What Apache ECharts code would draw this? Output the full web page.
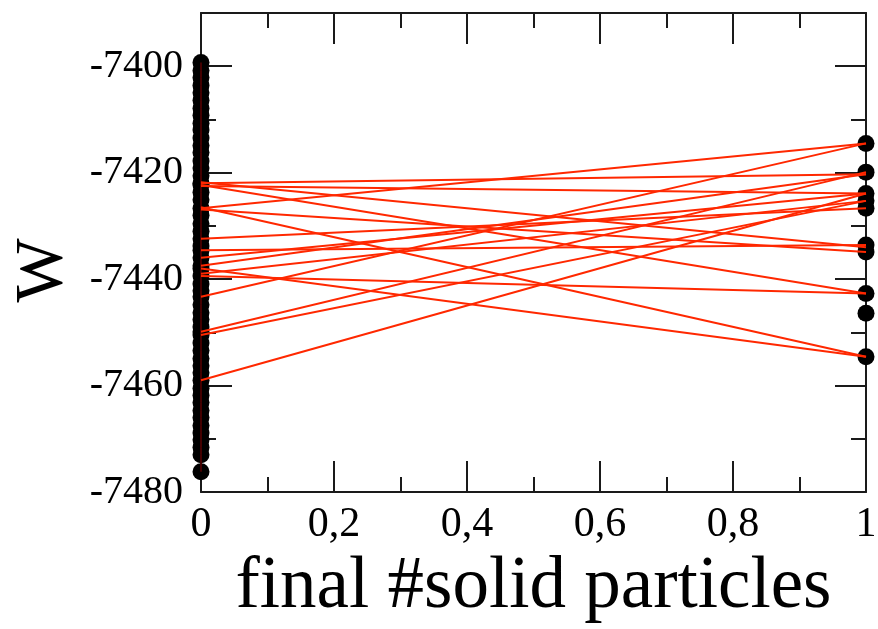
<!DOCTYPE html>
<html>
<head>
<meta charset="utf-8">
<script src="https://cdn.jsdelivr.net/npm/echarts@6/dist/echarts.min.js"></script>
<style>
html,body{margin:0;padding:0;background:#fff;}
#chart{width:878px;height:629px;}
</style>
</head>
<body>
<div id="chart"></div>
<script>
// ---- data ----
const xTickLabels = {0: '0', 0.2: '0,2', 0.4: '0,4', 0.6: '0,6', 0.8: '0,8', 1: '1'};
const yTickLabels = [-7480, -7460, -7440, -7420, -7400];

// W of the systems that end with 0 solid particles (black column at x = 0)
const leftDots = [-7399.3, -7400.8, -7402.1, -7403.6, -7405.0, -7406.4, -7407.9, -7409.2, -7410.7, -7412.0,
  -7413.5, -7414.9, -7416.2, -7417.8, -7419.1, -7420.6, -7422.0, -7422.3, -7423.7, -7425.1,
  -7426.7, -7428.0, -7429.6, -7431.0, -7432.4, -7433.8, -7434.6, -7436.0, -7437.5, -7438.0,
  -7439.4, -7440.9, -7442.2, -7443.3, -7444.8, -7446.3, -7447.6, -7449.0, -7449.9, -7450.5,
  -7452.0, -7453.4, -7454.9, -7456.3, -7457.6, -7459.0, -7460.5, -7461.8, -7463.2, -7464.7,
  -7466.0, -7467.5, -7468.9, -7470.2, -7471.6, -7473.0, -7476.2];

// W of the systems that end with 1 solid particle (dots at x = 1)
const rightDots = [-7414.5, -7419.9, -7423.9, -7425.3, -7426.7, -7433.6, -7434.9, -7442.7, -7446.4, -7454.6];

// red connecting lines: W at x = 0  ->  W at x = 1
const lineStartW = [-7422.0, -7422.3, -7421.8, -7426.7, -7426.5, -7438.0, -7439.4, -7459.0, -7443.3, -7449.9,
  -7450.5, -7432.4, -7434.6, -7436.0, -7437.5, -7422.5, -7426.9, -7439.0];
const lineEndW = [-7420.3, -7442.7, -7434.0, -7414.5, -7454.6, -7454.6, -7442.7, -7423.9, -7414.5, -7419.9,
  -7425.3, -7426.7, -7433.6, -7423.9, -7420.3, -7423.9, -7434.9, -7425.3];

// ---- chart ----
const chart = echarts.init(document.getElementById('chart'), null, {renderer: 'canvas'});
const FONT = '"Liberation Serif", "Times New Roman", serif';
const lineCol = '#1a1a1a';
const red = 'rgb(255,40,0)';

const series = [];
series.push({
  type: 'scatter', data: leftDots.map(v => [0, v]), symbol: 'circle', symbolSize: 17,
  itemStyle: {color: '#000', opacity: 1}, z: 2, silent: true
});
series.push({
  type: 'line', data: leftDots.map(v => [0, v]), showSymbol: false, symbol: 'none',
  lineStyle: {color: 'rgba(170,0,0,0.8)', width: 1}, z: 3, silent: true
});
series.push({
  type: 'scatter', data: rightDots.map(v => [1, v]), symbol: 'circle', symbolSize: 17,
  itemStyle: {color: '#000', opacity: 1}, z: 2, silent: true
});
for (let i = 0; i < lineStartW.length; i++) {
  series.push({
    type: 'line', data: [[0, lineStartW[i]], [1, lineEndW[i]]], symbol: 'none', showSymbol: false,
    lineStyle: {color: red, width: 2}, z: 4, silent: true
  });
}

function xAxisCfg(pos, labels) {
  return {
    type: 'value', position: pos, min: 0, max: 1, interval: 0.2,
    axisLine: {show: true, onZero: false, lineStyle: {color: lineCol, width: 2}},
    axisTick: {show: true, inside: true, length: 31, lineStyle: {color: lineCol, width: 2}},
    minorTick: {show: true, splitNumber: 2, length: 15, lineStyle: {color: lineCol, width: 2}},
    splitLine: {show: false}, minorSplitLine: {show: false},
    axisLabel: labels ? {
      show: true, margin: 12, color: '#000', fontFamily: FONT, fontSize: 42,
      formatter: v => { const k = Math.round(v * 10) / 10; return xTickLabels[k] !== undefined ? xTickLabels[k] : ''; }
    } : {show: false},
    name: labels ? 'final #solid particles' : '',
    nameLocation: 'middle', nameGap: 53,
    nameTextStyle: {fontFamily: FONT, fontSize: 73, color: '#000'}
  };
}
function yAxisCfg(pos, interval, tickLen, labels, showLine, name) {
  return {
    type: 'value', position: pos, min: -7480, max: -7390, interval: interval,
    axisLine: {show: showLine, onZero: false, lineStyle: {color: lineCol, width: 2}},
    axisTick: {show: true, inside: true, length: tickLen, lineStyle: {color: lineCol, width: 2}},
    splitLine: {show: false},
    axisLabel: labels ? {
      show: true, margin: 18, color: '#000', fontFamily: FONT, fontSize: 40,
      formatter: v => yTickLabels.indexOf(v) >= 0 ? String(v) : ''
    } : {show: false},
    name: name || '', nameLocation: 'middle', nameGap: 124, nameRotate: 90,
    nameTextStyle: {fontFamily: FONT, fontSize: 68, color: '#000', padding: [0, 36, 0, 0]}
  };
}

chart.setOption({
  animation: false,
  backgroundColor: '#fff',
  grid: {left: 201, right: 12, top: 13, bottom: 137, containLabel: false, outerBoundsMode: 'none'},
  xAxis: [xAxisCfg('bottom', true), xAxisCfg('top', false)],
  yAxis: [
    yAxisCfg('left', 20, 31, true, true, 'W'),
    yAxisCfg('left', 10, 15, false, false),
    yAxisCfg('right', 20, 31, false, true),
    yAxisCfg('right', 10, 15, false, false)
  ],
  series: series
});
</script>
</body>
</html>
